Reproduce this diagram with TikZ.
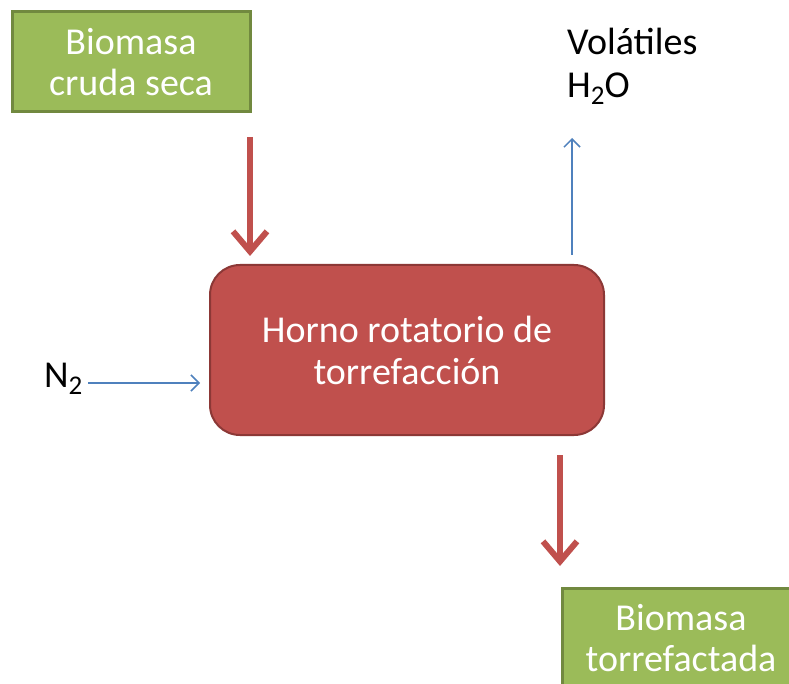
\documentclass[tikz,border=0pt]{standalone}
\usepackage{fontspec}
\setmainfont{Carlito}
\usetikzlibrary{arrows.meta}

\definecolor{boxgreen}{HTML}{9BBB59}
\definecolor{edgegreen}{HTML}{71893F}
\definecolor{boxred}{HTML}{C0504D}
\definecolor{edgered}{HTML}{8C3836}
\definecolor{lineblue}{HTML}{4F81BD}

\newcommand{\lowsub}[1]{\raisebox{-7pt}{\fontsize{27}{27}\selectfont #1}}

\begin{document}
\begin{tikzpicture}[x=1pt, y=-1pt,
    feed/.style={draw=edgegreen, line width=3pt, fill=boxgreen, text=white,
        minimum width=238pt, minimum height=100pt, align=center,
        font=\fontsize{38}{41}\selectfont},
    oven/.style={draw=edgered, line width=2pt, fill=boxred, text=white,
        rounded corners=30pt, minimum width=394pt, minimum height=170pt,
        align=center, font=\fontsize{38}{42}\selectfont},
    label/.style={font=\fontsize{38}{43}\selectfont, inner sep=0pt},
    solidflow/.style={draw=boxred, line width=6pt,
        -{Straight Barb[length=20pt, width=34pt, line width=6pt]}},
    gasflow/.style={draw=lineblue, line width=1.5pt,
        -{Straight Barb[length=8pt, width=16pt, line width=1.5pt]}}]
    \useasboundingbox[clip] (0,0) rectangle (789,684);
    \fill[white] (0,0) rectangle (789,684);

    % Main nodes
    \node[feed] (raw) at (131,62) {Biomasa\\cruda seca};
    \node[oven] (kiln) at (407,350) {Horno rotatorio de\\torrefacción};
    \node[feed] (torrefied) at (681,638) {Biomasa\\torrefactada};

    % Gas labels
    \node[label, anchor=base west] (nitrogen) at (44,387) {N\lowsub{2}};
    \node[label, anchor=north west, align=left] (volatiles) at (567,28)
        {Volátiles\\H\lowsub{2}O};

    % Arrow end points
    \coordinate (rawout) at (250,137);
    \coordinate (kilnin) at (250,256);
    \coordinate (kilnout) at (560,455);
    \coordinate (torrin) at (560,566);
    \coordinate (gasout) at (572,255);
    \coordinate (gastop) at (572,138);
    \coordinate (n2out) at (88,383);
    \coordinate (n2in) at (200,383);

    % Flows
    \draw[solidflow] (rawout) -- (kilnin);
    \draw[solidflow] (kilnout) -- (torrin);
    \draw[gasflow] (n2out) -- (n2in);
    \draw[gasflow] (gasout) -- (gastop);
\end{tikzpicture}
\end{document}
